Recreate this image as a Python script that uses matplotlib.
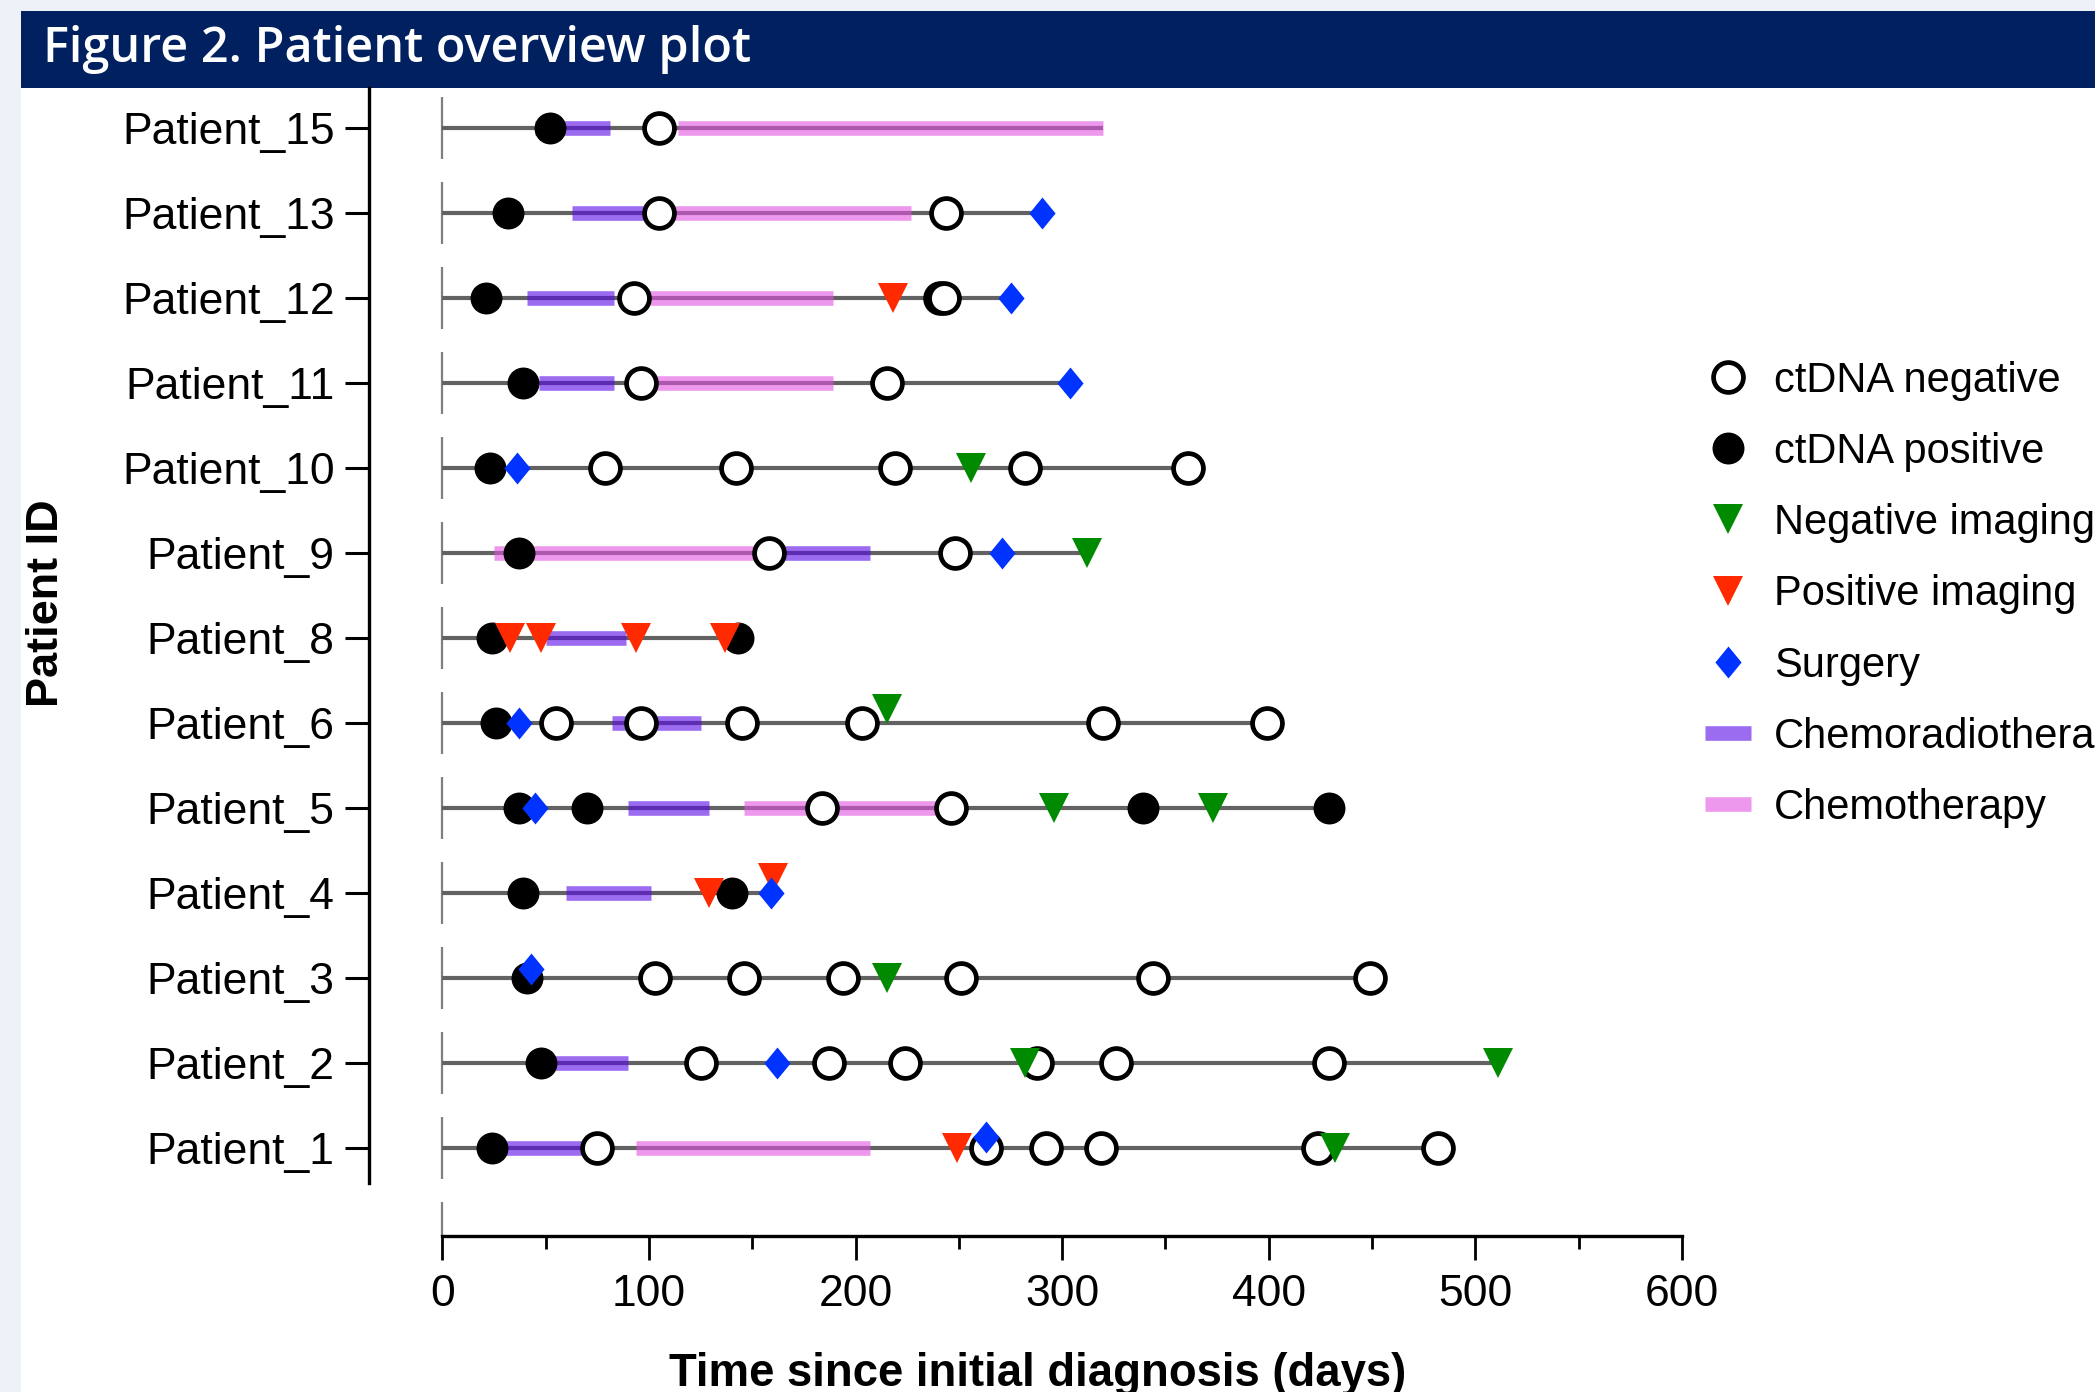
import numpy as np
import matplotlib
matplotlib.use('Agg')
import matplotlib.pyplot as plt
from matplotlib.lines import Line2D
from matplotlib.patches import Rectangle
from matplotlib.path import Path

plt.rcParams['font.family'] = ['Liberation Sans', 'DejaVu Sans']
plt.rcParams['lines.scale_dashes'] = False

# rows from bottom to top
patients = ['Patient_1', 'Patient_2', 'Patient_3', 'Patient_4', 'Patient_5', 'Patient_6',
            'Patient_8', 'Patient_9', 'Patient_10', 'Patient_11', 'Patient_12', 'Patient_13',
            'Patient_15']

# days since initial diagnosis, one list per patient
ctdna_neg = [
    [75, 263, 292, 319, 424, 482],
    [125, 187, 224, 288, 326, 429],
    [103, 146, 194, 251, 344, 449],
    [],
    [184, 246],
    [55, 96, 145, 203, 320, 399],
    [],
    [158, 248],
    [79, 142, 219, 282, 361],
    [96, 215],
    [93, 241, 243],
    [105, 244],
    [105],
]
ctdna_pos = [
    [24], [48], [41], [39, 140], [37, 70, 339, 429], [26], [24, 143], [37], [23], [39],
    [21], [32], [52],
]
neg_imaging = [
    [432], [282, 511], [215], [], [296, 373], [215], [], [312], [256], [], [], [], [],
]
pos_imaging = [
    [249], [], [], [129, 160], [], [], [33, 48, 94, 137], [], [], [], [218], [], [],
]
surgery = [
    [263], [162], [43], [159], [45], [37], [], [271], [36], [304], [275], [290], [],
]
chemoradio = [
    (28, 68), (51, 90), None, (60, 101), (90, 129), (82, 125), (50, 89), (158, 207),
    None, (47, 83), (41, 83), (63, 104), (45, 81),
]
chemo = [
    (94, 207), None, None, None, (146, 240), None, None, (25, 158), None, (99, 189),
    (96, 189), (105, 227), (114, 320),
]

# a few markers sit slightly above the line so they don't hide each other
nudge = {
    ('Patient_1', 'surgery', 263): 0.13,
    ('Patient_3', 'surgery', 43): 0.10,
    ('Patient_4', 'pos', 160): 0.17,
    ('Patient_6', 'neg', 215): 0.16,
}

circle = Path.unit_circle()
diamond = [(0, 1), (0.82, 0), (0, -1), (-0.82, 0), (0, 1)]
c_line = '#626262'
c_crt = '#5808E6'
c_chemo = '#E151E1'
c_neg_img = '#008A00'
c_pos_img = '#FF2A00'
c_surg = '#0033FF'

fig = plt.figure(figsize=(20.95, 13.92), dpi=100, facecolor='#EEF2F8')
fig.patches.append(Rectangle((0.0102, 0), 1, 0.9367, transform=fig.transFigure,
                             facecolor='white', edgecolor='none', zorder=-2))
fig.patches.append(Rectangle((0.0102, 0.9367), 1, 0.0556, transform=fig.transFigure,
                             facecolor='#002060', edgecolor='none', zorder=-1))
fig.text(0.0204, 0.9645, 'Figure 2. Patient overview plot', color='white',
         fontsize=35, fontweight='semibold', family=['Open Sans', 'DejaVu Sans'],
         va='center')

ax = fig.add_axes([0.2111, 0.1123, 0.8029 - 0.2111, 0.9367 - 0.1123])
ax.patch.set_visible(False)
ylo, yhi = -1.037, 12.47
ax.set_xlim(0, 600)
ax.set_ylim(ylo, yhi)

# dashed line at diagnosis
ax.plot([0, 0], [yhi, ylo], color='#7F7F7F', lw=1.6, linestyle=(54.7, (44.6, 16.6)),
        clip_on=False, zorder=1)

for i, name in enumerate(patients):
    spans = [s for s in (chemoradio[i], chemo[i]) if s]
    pts = ctdna_neg[i] + ctdna_pos[i] + neg_imaging[i] + pos_imaging[i] + surgery[i]
    last = max(pts + [e for s in spans for e in s])
    ax.plot([0, last], [i, i], color=c_line, lw=3, solid_capstyle='butt', zorder=2)
    if chemo[i]:
        ax.plot(chemo[i], [i, i], color=c_chemo, alpha=0.59, lw=10.5,
                solid_capstyle='butt', zorder=3)
    if chemoradio[i]:
        ax.plot(chemoradio[i], [i, i], color=c_crt, alpha=0.6, lw=10.5,
                solid_capstyle='butt', zorder=3)

    def ys(kind, days):
        return [i + nudge.get((name, kind, d), 0) for d in days]

    ax.plot(ctdna_neg[i], ys('ctneg', ctdna_neg[i]), ls='none', marker=circle, ms=21.5,
            mfc='white', mec='black', mew=3.4, zorder=4)
    ax.plot(ctdna_pos[i], ys('ctpos', ctdna_pos[i]), ls='none', marker=circle, ms=23,
            mfc='black', mec='black', mew=0, zorder=5)
    ax.plot(neg_imaging[i], ys('neg', neg_imaging[i]),
            ls='none', marker='v', ms=22, color=c_neg_img, mew=0, zorder=6)
    ax.plot(pos_imaging[i], ys('pos', pos_imaging[i]),
            ls='none', marker='v', ms=22, color=c_pos_img, mew=0, zorder=6)
    ax.plot(surgery[i], ys('surgery', surgery[i]), ls='none', marker=diamond, ms=23,
            color=c_surg, mew=0, zorder=7)

for s in ['top', 'right']:
    ax.spines[s].set_visible(False)
ax.spines['left'].set_position(('outward', 53))
ax.spines['left'].set_bounds(-0.42, yhi)
ax.spines['bottom'].set_bounds(0, 600)
for s in ['left', 'bottom']:
    ax.spines[s].set_linewidth(2.4)

ax.set_yticks(np.arange(len(patients)))
ax.set_yticklabels(patients)
ax.set_xticks(np.arange(0, 601, 100))
ax.set_xticks(np.arange(50, 600, 100), minor=True)
ax.tick_params(axis='y', length=17, width=2.2, pad=7.5, labelsize=32)
ax.tick_params(axis='x', which='major', length=17, width=2, pad=10.5, labelsize=32)
ax.tick_params(axis='x', which='minor', length=9, width=2)

ax.set_xlabel('Time since initial diagnosis (days)', fontsize=32.8, fontweight='bold')
ax.xaxis.set_label_coords(0.4955, 0.029, transform=fig.transFigure)
fig.text(0.0223, 0.567, 'Patient ID', rotation=90, fontsize=32.5, fontweight='bold',
         ha='center', va='center')

handles = [
    Line2D([], [], ls='none', marker=circle, ms=21.5, mfc='white', mec='black', mew=3.4),
    Line2D([], [], ls='none', marker=circle, ms=23, mfc='black', mec='black', mew=0),
    Line2D([], [], ls='none', marker='v', ms=22, color=c_neg_img, mew=0),
    Line2D([], [], ls='none', marker='v', ms=22, color=c_pos_img, mew=0),
    Line2D([], [], ls='none', marker=diamond, ms=23, color=c_surg, mew=0),
    Line2D([], [], color=c_crt, alpha=0.6, lw=10.5, solid_capstyle='butt'),
    Line2D([], [], color=c_chemo, alpha=0.59, lw=10.5, solid_capstyle='butt'),
]
labels = ['ctDNA negative', 'ctDNA positive', 'Negative imaging', 'Positive imaging',
          'Surgery', 'Chemoradiotherapy', 'Chemotherapy']
fig.legend(handles, labels, loc='upper left', bbox_to_anchor=(0.8138, 0.741),
           frameon=False, fontsize=30, borderpad=0, borderaxespad=0,
           handlelength=1.1, handletextpad=0.55, labelspacing=0.75)

fig.savefig('out.png', dpi=100, facecolor=fig.get_facecolor())
